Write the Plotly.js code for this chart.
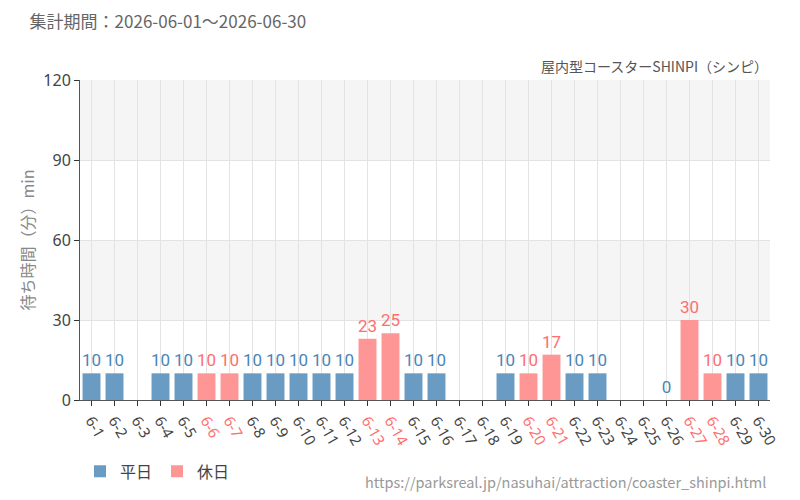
<!DOCTYPE html>
<html><head><meta charset="utf-8">
<script src="https://cdn.plot.ly/plotly-3.0.1.min.js"></script>
<style>body{margin:0}#c{width:800px;height:500px}</style>
</head><body><div id="c"></div>
<script>
const days = ["6-1","6-2","6-3","6-4","6-5","6-6","6-7","6-8","6-9","6-10","6-11","6-12","6-13","6-14","6-15","6-16","6-17","6-18","6-19","6-20","6-21","6-22","6-23","6-24","6-25","6-26","6-27","6-28","6-29","6-30"];
const waits = [10,10,null,10,10,10,10,10,10,10,10,10,23,25,10,10,null,null,10,10,17,10,10,null,null,0,30,10,10,10];
const holiday = [0,0,0,0,0,1,1,0,0,0,0,0,1,1,0,0,0,0,0,1,1,0,0,0,0,0,1,1,0,0];
const yTicks = [0,30,60,90,120];

const blue = "#6a9bc3", pink = "#ff9696";
const blueTxt = "#4a85b8", pinkTxt = "#ff6e6e";

const wkY = waits.map((v,i)=> holiday[i]?null:v);
const hoY = waits.map((v,i)=> holiday[i]?v:null);
const lbl = arr => arr.map(v => v==null? "" : String(v));
const tickText = days.map((d,i)=> holiday[i] ? `<span style="color:${pinkTxt}">${d}</span>` : d);

const labelFont = {family:"Roboto, sans-serif", size:17};

const traces = [
 {type:"bar", name:"平日", x:days, y:wkY, marker:{color:blue}, text:lbl(wkY), textposition:"outside", constraintext:"none",
  textfont:Object.assign({color:blueTxt}, labelFont), cliponaxis:false, hoverinfo:"x+y"},
 {type:"bar", name:"休日", x:days, y:hoY, marker:{color:pink}, text:lbl(hoY), textposition:"outside", constraintext:"none",
  textfont:Object.assign({color:pinkTxt}, labelFont), cliponaxis:false, hoverinfo:"x+y"}
];

const layout = {
 width:800, height:500,
 margin:{l:80, r:30, t:80, b:100},
 barmode:"overlay", bargap:0.22,
 paper_bgcolor:"#fff", plot_bgcolor:"#fff",
 font:{family:"'Noto Sans CJK JP','Noto Sans',sans-serif", color:"#444"},
 xaxis:{type:"category", tickangle:60, tickfont:{size:15, color:"#444", family:"'Noto Sans','Noto Sans CJK JP',sans-serif"},
  tickvals:days, ticktext:tickText, showgrid:true, gridcolor:"#e3e3e3", ticks:"outside", ticklen:5, tickcolor:"#333",
  showline:true, linecolor:"#555", linewidth:1, range:[-0.5, 29.5], fixedrange:true},
 yaxis:{range:[0,120], tickvals:yTicks, ticks:"outside", ticklen:5, tickcolor:"#333", showline:true, linecolor:"#555",
  showgrid:true, gridcolor:"#e3e3e3", zeroline:false, tickfont:{size:16, color:"#444", family:"'Noto Sans',sans-serif"},
  title:{text:"待ち時間（分）min", font:{size:16, color:"#888"}, standoff:4}},
 shapes:[
  {type:"rect", xref:"paper", yref:"y", x0:0, x1:1, y0:30, y1:60, fillcolor:"#f5f5f5", line:{width:0}, layer:"below"},
  {type:"rect", xref:"paper", yref:"y", x0:0, x1:1, y0:90, y1:120, fillcolor:"#f5f5f5", line:{width:0}, layer:"below"}
 ],
 showlegend:true,
 legend:{orientation:"h", x:0.0, xanchor:"left", y:-0.17, yanchor:"top", yref:"paper", font:{size:16, color:"#444"}, traceorder:"normal"},
 title:{text:"集計期間：2026-06-01～2026-06-30", x:0.037, xanchor:"left", y:0.955, yanchor:"middle", font:{size:17, color:"#666"}},
 annotations:[
  {text:"屋内型コースターSHINPI（シンピ）", xref:"paper", yref:"paper", x:1.0, y:1.005, xanchor:"right", yanchor:"bottom", showarrow:false, font:{size:14, color:"#555"}},
  {text:"https://parksreal.jp/nasuhai/attraction/coaster_shinpi.html", xref:"paper", x:0.997, xanchor:"right", yref:"paper", y:-0.255, yanchor:"middle", showarrow:false, font:{size:14.5, color:"#999"}}
 ]
};
Plotly.newPlot("c", traces, layout, {displayModeBar:false});
</script></body></html>
